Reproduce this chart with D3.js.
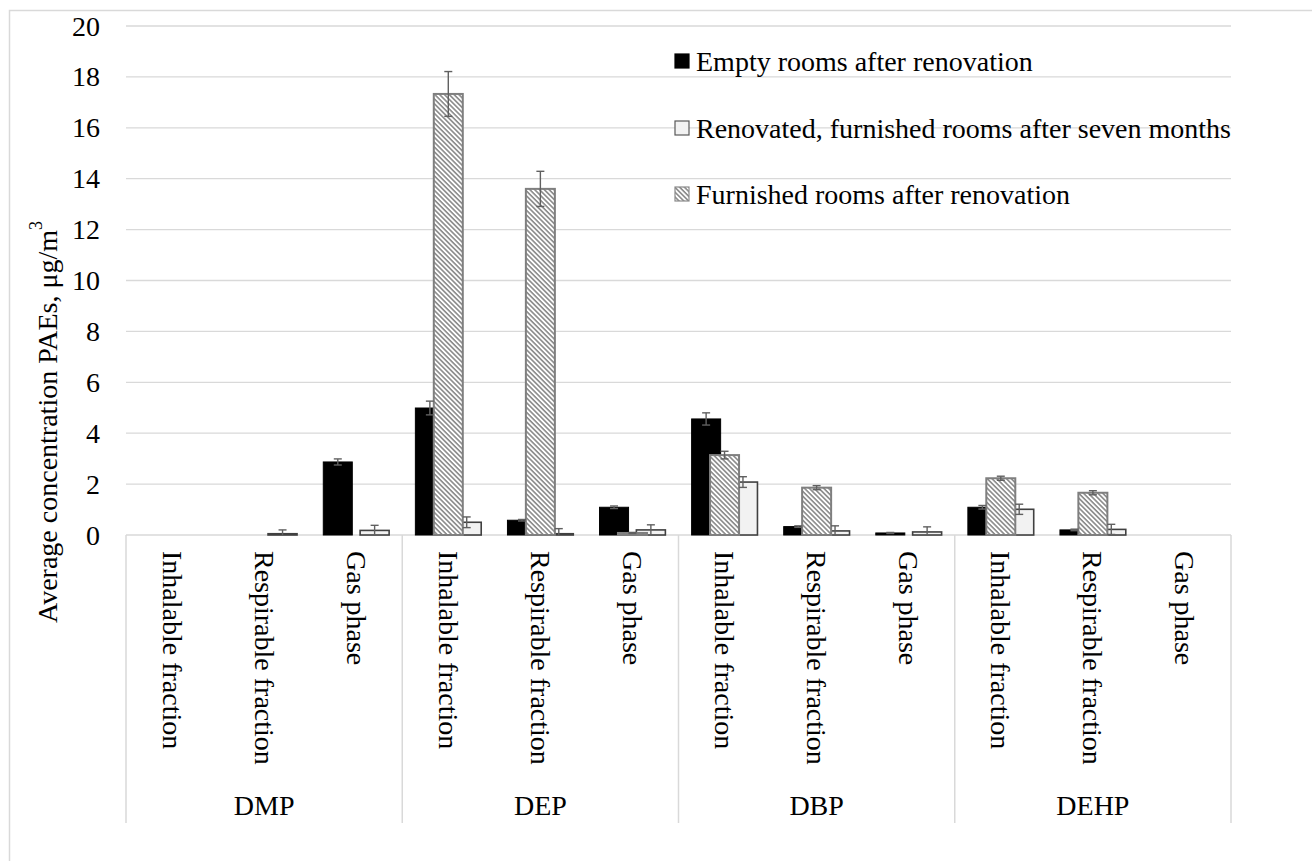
<!DOCTYPE html>
<html>
<head>
<meta charset="utf-8">
<script src="https://cdn.jsdelivr.net/npm/d3@7"></script>
<style>
  html, body { margin: 0; padding: 0; background: #fff; }
  svg { display: block; }
  text { font-family: "Liberation Serif", "Times New Roman", serif; fill: #000; }
</style>
</head>
<body>
<svg id="chart" width="1312" height="861"></svg>
<script>
// ---- data ----
const groups = ["DMP", "DEP", "DBP", "DEHP"];
const subCategories = ["Inhalable fraction", "Respirable fraction", "Gas phase"];
const seriesNames = [
  "Empty rooms after renovation",
  "Renovated, furnished rooms after seven months",
  "Furnished rooms after renovation"
];
// values in group order, 3 sub-categories each
const emptyRooms      = [0, 0, 2.87,  4.99, 0.58, 1.09,  4.56, 0.33, 0.08,  1.09, 0.20, 0];
const emptyRoomsErr   = [0, 0, 0.12,  0.27, 0.03, 0.05,  0.24, 0.03, 0.02,  0.07, 0.03, 0];
const sevenMonths     = [0, 0.05, 0.18,  0.50, 0.05, 0.20,  2.08, 0.16, 0.12,  1.01, 0.22, 0];
const sevenMonthsErr  = [0, 0.15, 0.20,  0.21, 0.20, 0.20,  0.21, 0.20, 0.20,  0.20, 0.20, 0];
const furnished       = [0, 0, 0,  17.33, 13.60, 0.08,  3.14, 1.86, 0,  2.23, 1.66, 0];
const furnishedErr    = [0, 0, 0,  0.88, 0.69, 0.02,  0.15, 0.08, 0,  0.08, 0.08, 0];
const yTicks = [0, 2, 4, 6, 8, 10, 12, 14, 16, 18, 20];
const yTitle = "Average concentration PAEs, μg/m";

(function () {
// ---- layout ----
const svg = d3.select("#chart");
const pLeft = 126, pRight = 1231, pTop = 26, pBase = 535, labelBottom = 823;

const cats = [];
groups.forEach(g => subCategories.forEach(s => cats.push(g + "|" + s)));

const x = d3.scaleBand().domain(cats).range([pLeft, pRight]).padding(0);
const xGroup = d3.scaleBand().domain(groups).range([pLeft, pRight]).padding(0);
const y = d3.scaleLinear().domain([0, 20]).range([pBase, pTop]);
const bw = x.bandwidth();
const slot = d3.scalePoint().domain([0, 1, 2]).range([-0.2 * bw, 0.2 * bw]);
const barW = 0.315 * bw;

// pattern
const defs = svg.append("defs");
const pat = defs.append("pattern")
  .attr("id", "hatch").attr("patternUnits", "userSpaceOnUse")
  .attr("width", 3.4).attr("height", 3.4)
  .attr("patternTransform", "rotate(45)");
pat.append("rect").attr("width", 3.4).attr("height", 3.4).attr("fill", "#ffffff");
pat.append("rect").attr("width", 3.4).attr("height", 1.6).attr("fill", "#8a8a8a");

// outer border
svg.append("rect").attr("x", 9.5).attr("y", 10.5).attr("width", 1400).attr("height", 900)
  .attr("fill", "none").attr("stroke", "#d9d9d9").attr("stroke-width", 1.5);

// gridlines
svg.append("g").selectAll("line").data(yTicks.filter(t => t > 0)).join("line")
  .attr("x1", pLeft).attr("x2", pRight)
  .attr("y1", d => y(d)).attr("y2", d => y(d))
  .attr("stroke", "#d9d9d9").attr("stroke-width", 1.3);

// y tick labels
svg.append("g").selectAll("text").data(yTicks).join("text")
  .attr("x", 100).attr("y", d => y(d))
  .attr("text-anchor", "end").attr("dominant-baseline", "central")
  .attr("font-size", 28).text(d => d);

// y title
const yt = svg.append("text")
  .attr("transform", "translate(47," + 422 + ") rotate(-90)")
  .attr("text-anchor", "middle").attr("dominant-baseline", "central")
  .attr("font-size", 28);
yt.append("tspan").text(yTitle);
yt.append("tspan").attr("font-size", 18).attr("dy", -11).text("3");

// category axis
svg.append("line").attr("x1", pLeft).attr("x2", pRight).attr("y1", pBase).attr("y2", pBase)
  .attr("stroke", "#d9d9d9").attr("stroke-width", 1.5);
const seps = groups.map(g => xGroup(g)).concat([pRight]);
svg.append("g").selectAll("line").data(seps).join("line")
  .attr("x1", d => d).attr("x2", d => d).attr("y1", pBase).attr("y2", labelBottom)
  .attr("stroke", "#d9d9d9").attr("stroke-width", 1.5);

// sub category labels
svg.append("g").selectAll("text").data(cats).join("text")
  .attr("transform", d => "translate(" + (x(d) + bw / 2) + ",551) rotate(90)")
  .attr("text-anchor", "start").attr("dominant-baseline", "central")
  .attr("font-size", 28).text(d => d.split("|")[1]);

// group labels
svg.append("g").selectAll("text").data(groups).join("text")
  .attr("x", d => xGroup(d) + xGroup.bandwidth() / 2).attr("y", 815)
  .attr("text-anchor", "middle").attr("font-size", 28).text(d => d);

// bars
const seriesDefs = [
  { vals: emptyRooms, errs: emptyRoomsErr, slot: 0, fill: "#000000", stroke: "#000000", sw: 1 },
  { vals: sevenMonths, errs: sevenMonthsErr, slot: 2, fill: "#f2f2f2", stroke: "#404040", sw: 1.6 },
  { vals: furnished, errs: furnishedErr, slot: 1, fill: "url(#hatch)", stroke: "#7f7f7f", sw: 2 }
];
const barData = s => cats.map((c, i) => ({ c, v: s.vals[i], e: s.errs[i], s })).filter(d => d.v > 0);

seriesDefs.forEach(s => {
  svg.append("g").selectAll("rect").data(barData(s)).join("rect")
    .attr("x", d => x(d.c) + bw / 2 + slot(s.slot) - barW / 2)
    .attr("width", barW)
    .attr("y", d => y(d.v))
    .attr("height", d => y(0) - y(d.v))
    .attr("fill", s.fill).attr("stroke", s.stroke).attr("stroke-width", s.sw);
});

// error bars
const errG = svg.append("g").attr("stroke", "#606060").attr("stroke-width", 1.4).attr("fill", "none");
seriesDefs.forEach(s => {
  barData(s).filter(d => d.e > 0).forEach(d => {
    const cx = x(d.c) + bw / 2 + slot(s.slot);
    const hi = y(d.v + d.e), lo = y(Math.max(0, d.v - d.e));
    errG.append("line").attr("x1", cx).attr("x2", cx).attr("y1", hi).attr("y2", lo);
    errG.append("line").attr("x1", cx - 4).attr("x2", cx + 4).attr("y1", hi).attr("y2", hi);
    if (d.v - d.e > 0) errG.append("line").attr("x1", cx - 4).attr("x2", cx + 4).attr("y1", lo).attr("y2", lo);
  });
});

// legend
const legendY = [61, 128, 194];
const legendStyles = [
  { fill: "#000000", stroke: "#000000" },
  { fill: "#f2f2f2", stroke: "#595959" },
  { fill: "url(#hatch)", stroke: "#8a8a8a" }
];
const lg = svg.append("g").selectAll("g").data(seriesNames).join("g")
  .attr("transform", (d, i) => "translate(0," + legendY[i] + ")");
lg.append("rect").attr("x", 675).attr("y", -7).attr("width", 14).attr("height", 14)
  .attr("fill", (d, i) => legendStyles[i].fill).attr("stroke", (d, i) => legendStyles[i].stroke)
  .attr("stroke-width", 1.2);
lg.append("text").attr("x", 696).attr("y", 0).attr("dominant-baseline", "central")
  .attr("font-size", 28).text(d => d);
})();
</script>
</body>
</html>
